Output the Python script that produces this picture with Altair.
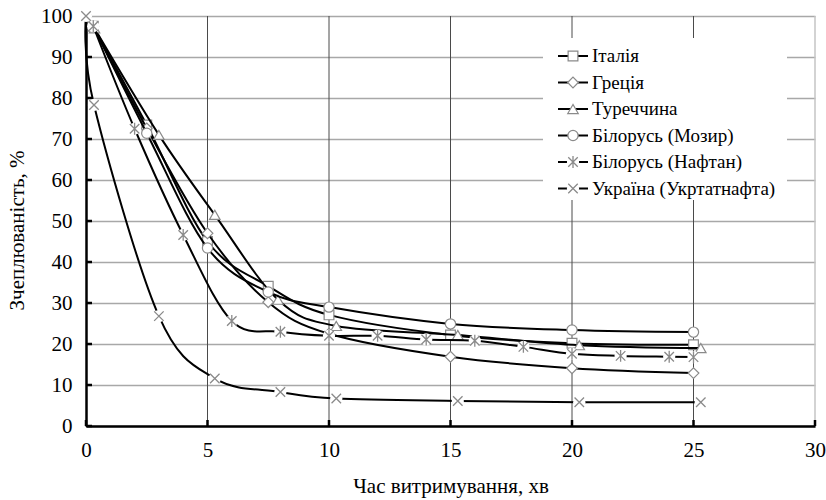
import altair as alt
import pandas as pd

# ---------------- data ----------------
series_names = ["Італія", "Греція", "Туреччина", "Білорусь (Мозир)",
                "Білорусь (Нафтан)", "Україна (Укртатнафта)"]

italy_x = [0.3, 2.5, 5, 7.5, 10, 15, 20, 25]
italy_y = [97.5, 73.4, 45.0, 34.1, 27.1, 22.2, 20.2, 19.8]

greece_x = [0.3, 2.5, 5, 7.5, 10, 15, 20, 25]
greece_y = [97.5, 72.6, 47.0, 30.2, 22.5, 16.9, 14.1, 12.9]

turkey_x = [0.35, 3.0, 5.3, 7.9, 10.3, 15.3, 20.3, 25.3]
turkey_y = [97.0, 71.0, 51.5, 30.8, 24.4, 22.2, 19.7, 19.0]

mozyr_x = [0.3, 2.5, 5, 7.5, 10, 15, 20, 25]
mozyr_y = [97.5, 71.4, 43.4, 32.7, 29.0, 24.9, 23.4, 22.9]

naftan_x = [0.3, 2, 4, 6, 8, 10, 12, 14, 16, 18, 20, 22, 24, 25]
naftan_y = [97.5, 72.5, 46.6, 25.6, 23.0, 22.0, 22.0, 21.1, 20.8, 19.3, 17.6, 17.1, 16.9, 16.8]

ukraine_x = [0, 0.33, 3.0, 5.3, 8.0, 10.3, 15.3, 20.3, 25.3]
ukraine_y = [100, 78.3, 26.8, 11.6, 8.3, 6.7, 6.1, 5.8, 5.8]

x_ticks = [0, 5, 10, 15, 20, 25, 30]
y_ticks = [0, 10, 20, 30, 40, 50, 60, 70, 80, 90, 100]
x_grid_dark = [5, 10, 15, 20, 25]
x_border = [30]

all_x = [italy_x, greece_x, turkey_x, mozyr_x, naftan_x, ukraine_x]
all_y = [italy_y, greece_y, turkey_y, mozyr_y, naftan_y, ukraine_y]

# ---------------- styles ----------------
W, H = 729, 410
FONT = "Liberation Serif"
MARK_GRAY = "#8a8a8a"
X_PATH = "M-1,-1L1,1M-1,1L1,-1"
AST_PATH = "M-1,-1L1,1M-1,1L1,-1M0,-1.25L0,1.25"

styles = [
    dict(shape="square", size=95, closed=True, halo=False),
    dict(shape="diamond", size=115, closed=True, halo=False),
    dict(shape="triangle-up", size=110, closed=True, halo=False),
    dict(shape="circle", size=105, closed=True, halo=False),
    dict(shape=AST_PATH, size=90, closed=False, halo=True),
    dict(shape=X_PATH, size=90, closed=False, halo=True),
]

xs = alt.Scale(domain=[0, 30], nice=False, zero=False)
ys = alt.Scale(domain=[0, 100], nice=False, zero=False)

x_axis = alt.Axis(values=x_ticks, title="Час витримування, хв", grid=False,
                  domainColor="black", domainWidth=2.5, tickSize=0, labelPadding=13,
                  labelFont=FONT, labelFontSize=21, labelColor="black", labelFlush=False,
                  labelOverlap=False, titleFont=FONT, titleFontSize=21,
                  titleFontWeight="normal", titleColor="black",
                  titleY=60, titleBaseline="middle")
y_axis = alt.Axis(values=y_ticks, title="Зчеплюваність, %", grid=True,
                  gridColor="#a8a8a8", gridWidth=1.5,
                  domainColor="black", domainWidth=2.5, tickSize=0, labelPadding=14,
                  labelFont=FONT, labelFontSize=21, labelColor="black", labelFlush=False,
                  labelOverlap=False, titleFont=FONT, titleFontSize=21,
                  titleFontWeight="normal", titleColor="black", titleAngle=270,
                  titleX=-69, titleY=214, titleAlign="center", titleBaseline="middle")

X = alt.X("x:Q", scale=xs, axis=x_axis)
Y = alt.Y("y:Q", scale=ys, axis=y_axis)

layers = []

# vertical grid
vgrid = alt.Chart(pd.DataFrame({"x": x_grid_dark})).mark_rule(
    color="#4a4a4a", strokeWidth=1).encode(x=X, y=alt.value(0), y2=alt.value(H))
border = alt.Chart(pd.DataFrame({"x": x_border})).mark_rule(
    color="#c4c4c4", strokeWidth=1.5).encode(x=X, y=alt.value(0), y2=alt.value(H))
layers += [vgrid, border]

# inward ticks
yt = alt.Chart(pd.DataFrame({"y": y_ticks})).mark_rule(
    color="black", strokeWidth=2.5).encode(y=Y, x=alt.value(0), x2=alt.value(6))
xt = alt.Chart(pd.DataFrame({"x": x_ticks})).mark_rule(
    color="black", strokeWidth=2.5).encode(x=X, y=alt.value(H), y2=alt.value(H - 6))
layers += [yt, xt]

# series
for name, sx, sy, st in zip(series_names, all_x, all_y, styles):
    df = pd.DataFrame({"x": sx, "y": sy, "series": name})
    base = alt.Chart(df)
    layers.append(base.mark_line(interpolate="cardinal", color="black",
                                 strokeWidth=2).encode(x=X, y=Y))
    if st["halo"]:
        layers.append(base.mark_point(shape="circle", filled=True, color="white",
                                      opacity=1, size=150).encode(x=X, y=Y))
    if st["closed"]:
        pt = base.mark_point(shape=st["shape"], filled=True, fill="white",
                             stroke=MARK_GRAY, strokeWidth=1.2, opacity=1,
                             size=st["size"])
    else:
        pt = base.mark_point(shape=st["shape"], filled=False, stroke=MARK_GRAY,
                             strokeWidth=1.3, opacity=1, size=st["size"])
    layers.append(pt.encode(x=X, y=Y))

# legend (manual, inside plot area)
leg_box = alt.Chart(pd.DataFrame({"a": [0]})).mark_rect(color="white").encode(
    x=alt.value(457), x2=alt.value(701), y=alt.value(22), y2=alt.value(184))
layers.append(leg_box)
for i, (name, st) in enumerate(zip(series_names, styles)):
    ry = 40 + i * 26.5
    ldf = pd.DataFrame({"name": [name]})
    lb = alt.Chart(ldf)
    layers.append(lb.mark_rule(color="black", strokeWidth=2).encode(
        x=alt.value(472), x2=alt.value(502), y=alt.value(ry)))
    if st["halo"]:
        layers.append(lb.mark_point(shape="circle", filled=True, color="white",
                                    opacity=1, size=150).encode(
            x=alt.value(487), y=alt.value(ry)))
    if st["closed"]:
        lp = lb.mark_point(shape=st["shape"], filled=True, fill="white",
                           stroke=MARK_GRAY, strokeWidth=1.2, opacity=1,
                           size=st["size"])
    else:
        lp = lb.mark_point(shape=st["shape"], filled=False, stroke=MARK_GRAY,
                           strokeWidth=1.3, opacity=1, size=st["size"])
    layers.append(lp.encode(x=alt.value(487), y=alt.value(ry)))
    layers.append(lb.mark_text(align="left", baseline="middle", font=FONT,
                               fontSize=19, color="black").encode(
        x=alt.value(506), y=alt.value(ry), text="name:N"))

chart = alt.layer(*layers).properties(
    width=W, height=H,
    autosize=alt.AutoSizeParams(type="none"),
    padding={"left": 86, "top": 16, "right": 11, "bottom": 74},
    background="white",
).configure_view(stroke=None)

chart.save("out.html", embed_options={"renderer": "svg", "actions": False})
